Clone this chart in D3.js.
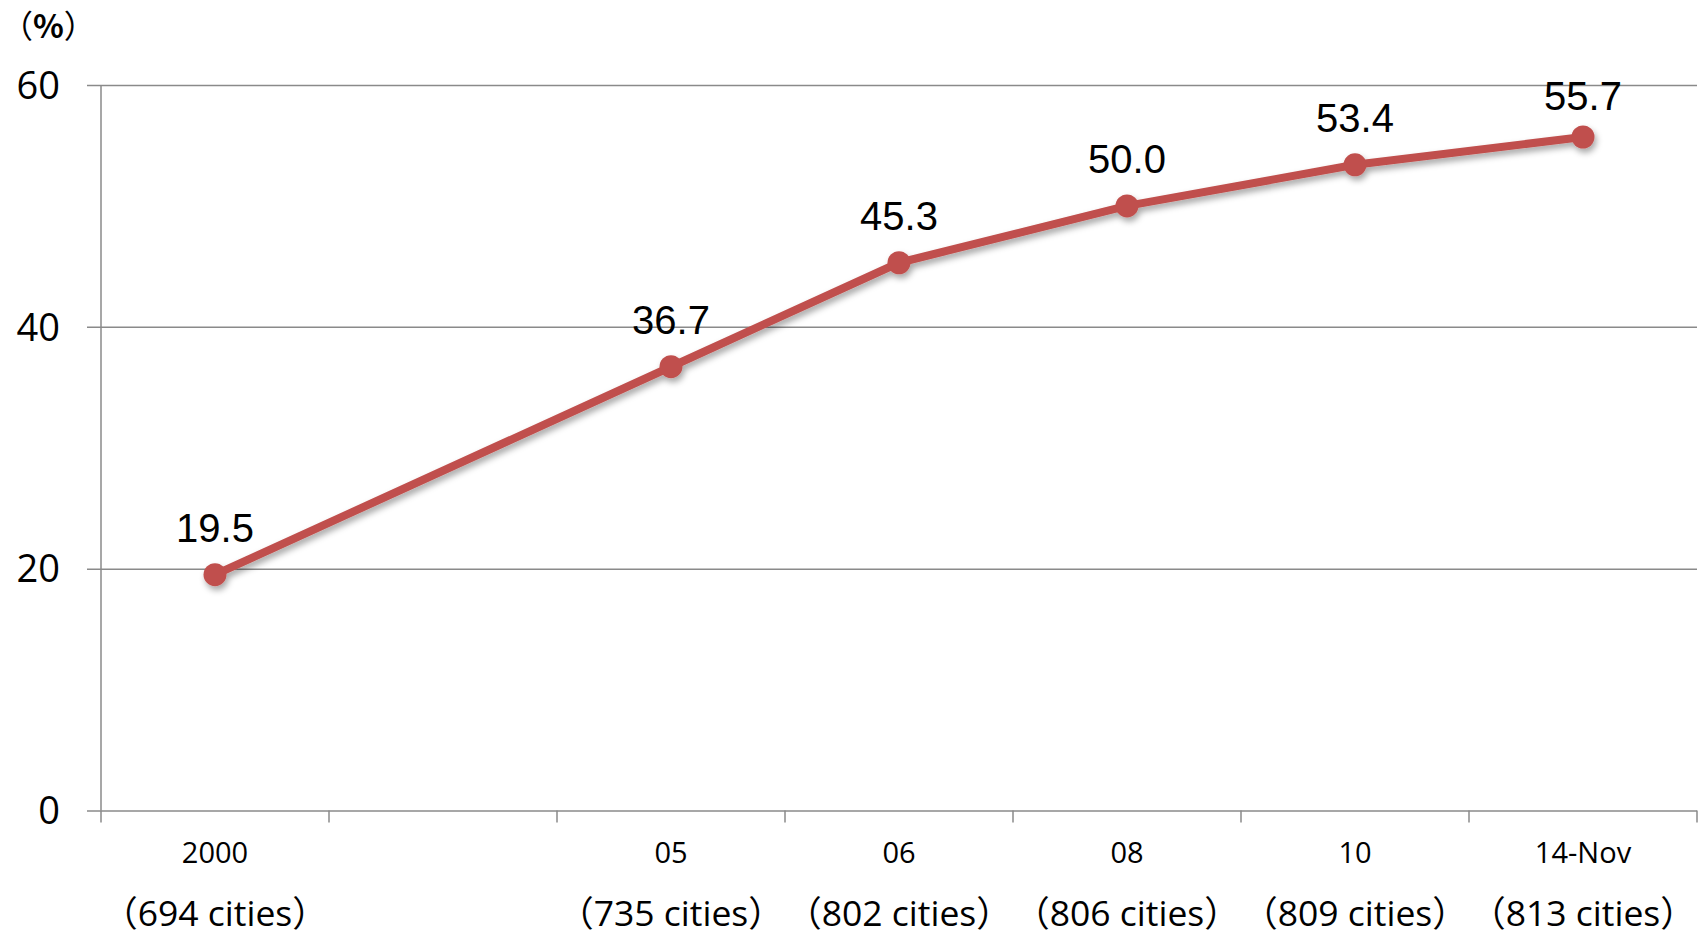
<!DOCTYPE html>
<html>
<head>
<meta charset="utf-8">
<script src="https://cdn.jsdelivr.net/npm/d3@7"></script>
<style>
  html, body { margin: 0; padding: 0; background: #fff; }
  svg { display: block; }
  svg text { text-spacing-trim: space-all; }
  .cjk { font-family: 'Noto Sans CJK JP', sans-serif; }
</style>
</head>
<body>
<svg id="chart" width="1706" height="938"></svg>
<script>
// Year slots on the category axis (one slot is left empty between 2000 and 05)
const categories = ["2000", "gap", "05", "06", "08", "10", "14-Nov"];
const yearLabels = ["2000", "", "05", "06", "08", "10", "14-Nov"];
const cityCounts = ["694 cities", "", "735 cities", "802 cities", "806 cities", "809 cities", "813 cities"];

// Share (%) per survey year
const pointCategories = ["2000", "05", "06", "08", "10", "14-Nov"];
const shareValues = [19.5, 36.7, 45.3, 50.0, 53.4, 55.7];

const yTicks = [0, 20, 40, 60];

const svg = d3.select("#chart");

const plot = { left: 101, right: 1697, top: 85, bottom: 810.5 };

const x = d3.scaleBand().domain(categories).range([plot.left, plot.right]).padding(0);
const y = d3.scaleLinear().domain([0, 60]).range([plot.bottom, plot.top]);

const gridColor = "#8a8a8a";
const lineColor = "#c0504d";

const defs = svg.append("defs");
const shadow = defs.append("filter").attr("id", "shadow")
  .attr("x", "-20%").attr("y", "-20%").attr("width", "140%").attr("height", "160%");
shadow.append("feDropShadow")
  .attr("dx", 2).attr("dy", 4).attr("stdDeviation", 3)
  .attr("flood-color", "#000").attr("flood-opacity", 0.35);

// Horizontal gridlines with left tick stubs, plus value labels
const yAxis = d3.axisLeft(y)
  .tickValues(yTicks)
  .tickSize(-(plot.right - plot.left))
  .tickSizeOuter(0)
  .tickPadding(0);

const gy = svg.append("g")
  .attr("transform", `translate(${plot.left},0)`)
  .call(yAxis);
gy.select(".domain").remove();
gy.selectAll(".tick line")
  .attr("x1", -14)
  .attr("stroke", gridColor)
  .attr("stroke-width", 1.5);
gy.selectAll(".tick text")
  .attr("x", -41)
  .attr("dy", "0.35em")
  .attr("fill", "#000")
  .style("font-family", "'Open Sans', 'Noto Sans', sans-serif")
  .style("font-size", "38px");

// Vertical axis line
svg.append("line")
  .attr("x1", plot.left).attr("x2", plot.left)
  .attr("y1", y(60)).attr("y2", y(0))
  .attr("stroke", gridColor).attr("stroke-width", 1.5);

// Category boundary ticks below the baseline
const boundaries = categories.map(c => x(c)).concat([x.range()[1]]);
svg.append("g").selectAll("line")
  .data(boundaries)
  .join("line")
  .attr("x1", d => d).attr("x2", d => d)
  .attr("y1", y(0)).attr("y2", y(0) + 12)
  .attr("stroke", gridColor).attr("stroke-width", 1.5);

// Year labels
svg.append("g").selectAll("text")
  .data(categories.map((c, i) => ({ c, label: yearLabels[i] })))
  .join("text")
  .attr("x", d => x(d.c) + x.bandwidth() / 2)
  .attr("y", 853)
  .attr("dy", "0.35em")
  .attr("text-anchor", "middle")
  .style("font-family", "'Open Sans', 'Noto Sans', sans-serif")
  .style("font-size", "29px")
  .text(d => d.label);

// City-count labels, wrapped in full-width parentheses
const cityText = svg.append("g").selectAll("text")
  .data(categories.map((c, i) => ({ c, label: cityCounts[i] })).filter(d => d.label))
  .join("text")
  .attr("x", d => x(d.c) + x.bandwidth() / 2)
  .attr("y", 914)
  .attr("dy", "0.35em")
  .attr("text-anchor", "middle")
  .style("font-family", "'Open Sans', sans-serif")
  .style("font-size", "35.5px");
cityText.append("tspan").attr("class", "cjk").text("（");
cityText.append("tspan").text(d => d.label);
cityText.append("tspan").attr("class", "cjk").text("）");

// Unit label
const unit = svg.append("text")
  .attr("x", 1).attr("y", 27)
  .attr("dy", "0.35em")
  .style("font-family", "'Noto Sans CJK JP', sans-serif")
  .style("font-size", "32px");
unit.append("tspan").text("（");
unit.append("tspan").style("font-weight", "bold").text("%");
unit.append("tspan").text("）");

// Series line and markers
const points = pointCategories.map((c, i) => ({
  cx: x(c) + x.bandwidth() / 2,
  cy: y(shareValues[i]),
  v: shareValues[i]
}));

const series = svg.append("g").attr("filter", "url(#shadow)");
series.append("path")
  .datum(points)
  .attr("d", d3.line().x(d => d.cx).y(d => d.cy))
  .attr("fill", "none")
  .attr("stroke", lineColor)
  .attr("stroke-width", 8)
  .attr("stroke-linejoin", "round");
series.selectAll("circle")
  .data(points)
  .join("circle")
  .attr("cx", d => d.cx)
  .attr("cy", d => d.cy)
  .attr("r", 11.5)
  .attr("fill", lineColor);

// Value labels above each marker, kept inside the top of the plot
svg.append("g").selectAll("text")
  .data(points)
  .join("text")
  .attr("x", d => d.cx)
  .attr("y", d => Math.max(d.cy - 33, plot.top + 25))
  .attr("text-anchor", "middle")
  .style("font-family", "'Liberation Sans', Arial, sans-serif")
  .style("font-size", "40px")
  .attr("fill", "#000")
  .text(d => d.v.toFixed(1));
</script>
</body>
</html>
